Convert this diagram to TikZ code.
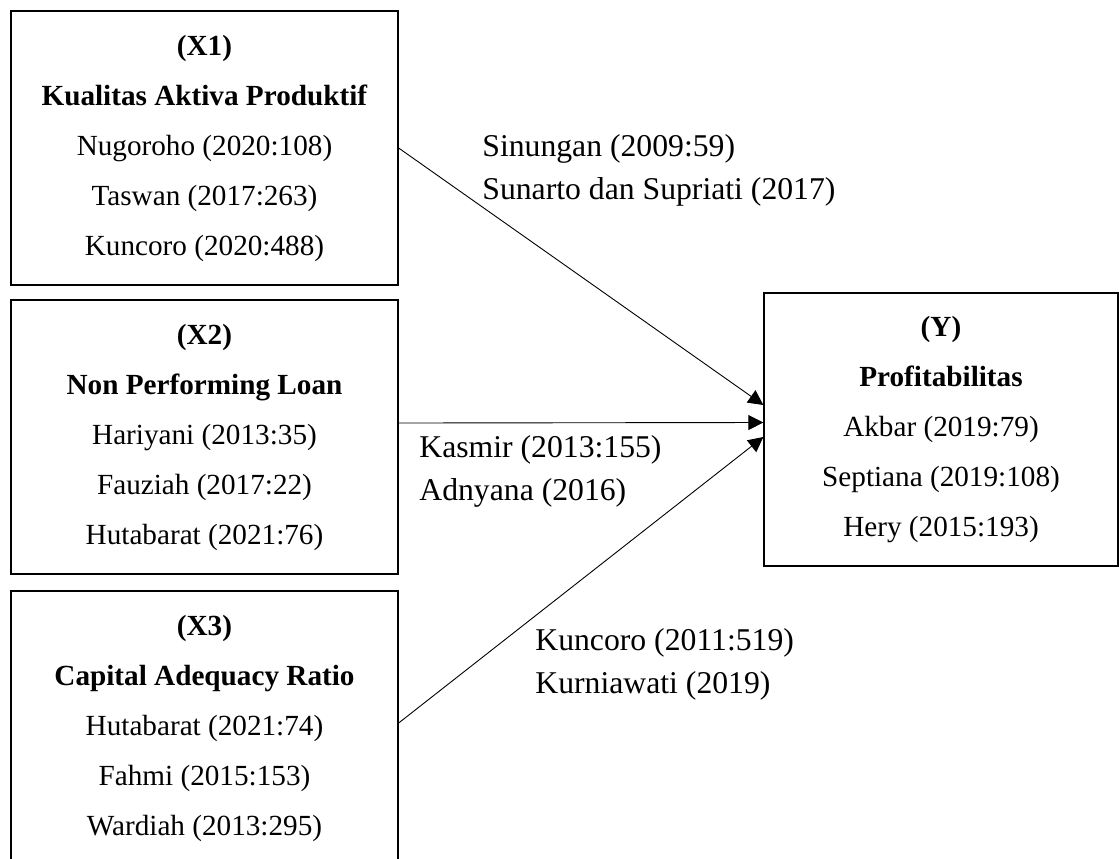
\documentclass[tikz,border=0pt]{standalone}
\usepackage{fontspec}
\setmainfont{Liberation Serif}
\usetikzlibrary{arrows.meta}
\usetikzlibrary{positioning}
\tikzset{varbox/.style = {draw, line width = 0.65pt, align = center, inner sep = 0, font = \fontsize{14.6}{25}\selectfont}}
\tikzset{reflabel/.style = {align = left, inner sep = 0, anchor = west, font = \fontsize{15.85}{21.5}\selectfont}}
\tikzset{link/.style = {line width = 0.45pt, -{Triangle[length = 7.5pt, width = 7.5pt]}}}

\begin{document}
\begin{tikzpicture}[x = 0.5pt, y = -0.5pt]
    \useasboundingbox (0, 0) rectangle (1119, 858);
    \clip (0, 0) rectangle (1119, 858);

    \node [varbox, minimum width = 193.5pt, minimum height = 137pt] (x1) at (204.5, 148)
      {\textbf{(X1)}\\ \textbf{Kualitas Aktiva Produktif}\\ Nugoroho (2020:108)\\ Taswan (2017:263)\\ Kuncoro (2020:488)};
    \node [varbox, minimum width = 193.5pt, minimum height = 137pt] (x2) at (204.5, 437)
      {\textbf{(X2)}\\ \textbf{Non Performing Loan}\\ Hariyani (2013:35)\\ Fauziah (2017:22)\\ Hutabarat (2021:76)};
    \node [varbox, minimum width = 193.5pt, minimum height = 137pt] (x3) at (204.5, 728)
      {\textbf{(X3)}\\ \textbf{Capital Adequacy Ratio}\\ Hutabarat (2021:74)\\ Fahmi (2015:153)\\ Wardiah (2013:295)};

    \node [varbox, minimum width = 177pt, minimum height = 136.5pt] (y) at (941, 429.5)
      {\textbf{(Y)}\\ \textbf{Profitabilitas}\\ Akbar (2019:79)\\ Septiana (2019:108)\\ Hery (2015:193)};

    \draw [link] (x1.east) -- ([yshift = 12.25pt]y.west);
    \draw [link] ([yshift = 7pt]x2.east) -- ([yshift = 3.5pt]y.west);
    \draw [link] ([yshift = 2.5pt]x3.east) -- ([yshift = -3.75pt]y.west);

    \node [reflabel] (r1) at (482, 170) {Sinungan (2009:59)\\ Sunarto dan Supriati (2017)};
    \node [reflabel] (r2) at (419, 471.5) {Kasmir (2013:155)\\ Adnyana (2016)};
    \node [reflabel] (r3) at (535, 664) {Kuncoro (2011:519)\\ Kurniawati (2019)};
  \end{tikzpicture}
\end{document}
